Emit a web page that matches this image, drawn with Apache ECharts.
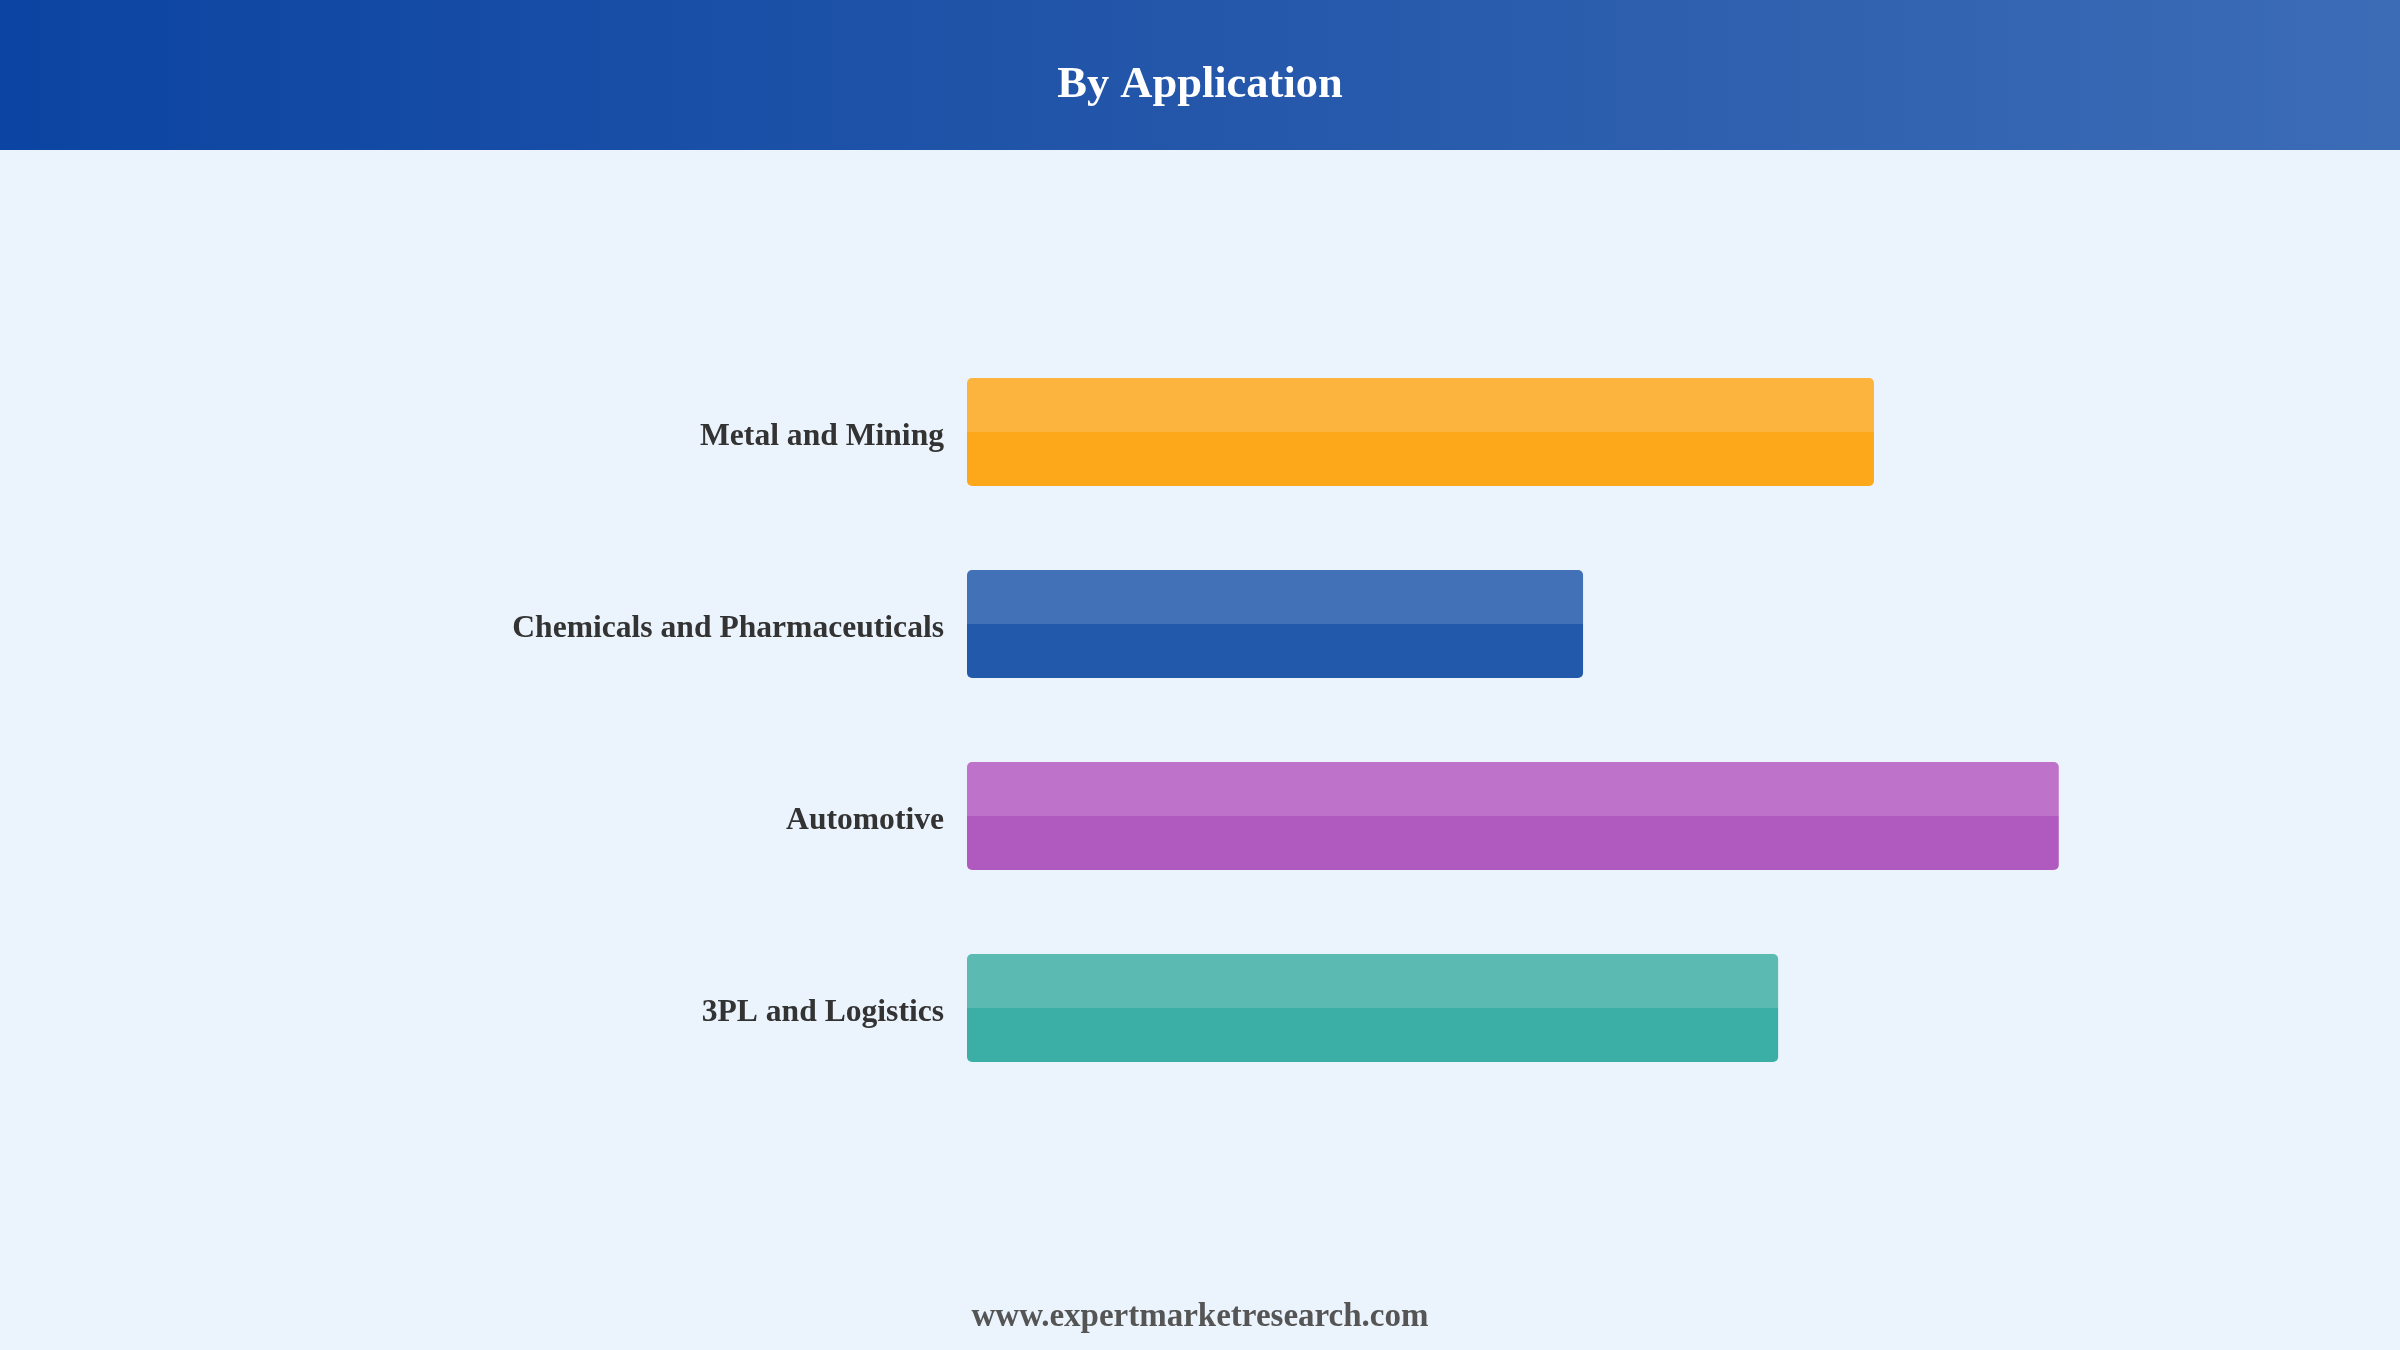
<!DOCTYPE html>
<html>
<head>
<meta charset="utf-8">
<title>By Application</title>
<script src="https://cdn.jsdelivr.net/npm/echarts@6/dist/echarts.min.js"></script>
<style>
    html, body { margin: 0; padding: 0; background: #EBF3FC; }
    #echarts { width: 2400px; height: 1350px; }
</style>
</head>
<body>
<div id="echarts"></div>
<script>
var categories = ['Metal and Mining', 'Chemicals and Pharmaceuticals', 'Automotive', '3PL and Logistics'];
var shares = [26.5, 18.0, 31.9, 23.7];
var lightColors = ['#FCB43F', '#4271B7', '#BF72CA', '#5BBAB2'];
var darkColors = ['#FDA81A', '#2359AB', '#B05ABF', '#3BAEA6'];

var myChart = echarts.init(document.getElementById('echarts'));
var serif = '"Times New Roman", "Liberation Serif", serif';

var barData = shares.map(function (v, i) {
    return {
        value: v,
        itemStyle: {
            color: {
                type: 'linear', x: 0, y: 0, x2: 0, y2: 1,
                colorStops: [
                    { offset: 0, color: lightColors[i] },
                    { offset: 0.5, color: lightColors[i] },
                    { offset: 0.5, color: darkColors[i] },
                    { offset: 1, color: darkColors[i] }
                ]
            }
        }
    };
});

var option = {
    backgroundColor: '#EBF3FC',
    animation: false,
    graphic: [
        {
            type: 'rect',
            left: 0, top: 0, z: -1,
            shape: { width: 2400, height: 150 },
            style: {
                fill: {
                    type: 'linear', x: 0, y: 0, x2: 1, y2: 0,
                    colorStops: [
                        { offset: 0, color: '#0B44A2' },
                        { offset: 0.5, color: '#2457AA' },
                        { offset: 1, color: '#3C6CB6' }
                    ]
                }
            }
        },
        {
            type: 'text',
            left: 'center', top: 1301,
            style: {
                text: 'www.expertmarketresearch.com',
                fill: '#555555',
                font: 'bold 33px ' + serif
            }
        }
    ],
    title: {
        text: 'By Application',
        left: 'center',
        top: 58,
        textStyle: {
            color: '#ffffff',
            fontFamily: serif,
            fontWeight: 'bold',
            fontSize: 44.5
        }
    },
    grid: { left: 967, right: 64, top: 336, bottom: 246, containLabel: false },
    xAxis: {
        type: 'value',
        min: 0,
        max: 40,
        show: false
    },
    yAxis: {
        type: 'category',
        inverse: true,
        data: categories,
        axisLine: { show: false },
        axisTick: { show: false },
        splitLine: { show: false },
        axisLabel: {
            margin: 23,
            formatter: '{a|{value}}',
            rich: {
                a: {
                    padding: [10, 0, 0, 0],
                    color: '#333333',
                    fontFamily: serif,
                    fontWeight: 'bold',
                    fontSize: 31.6
                }
            }
        }
    },
    series: [
        {
            type: 'bar',
            barWidth: 108,
            itemStyle: { borderRadius: 5 },
            data: barData
        }
    ]
};

myChart.setOption(option);
</script>
</body>
</html>
